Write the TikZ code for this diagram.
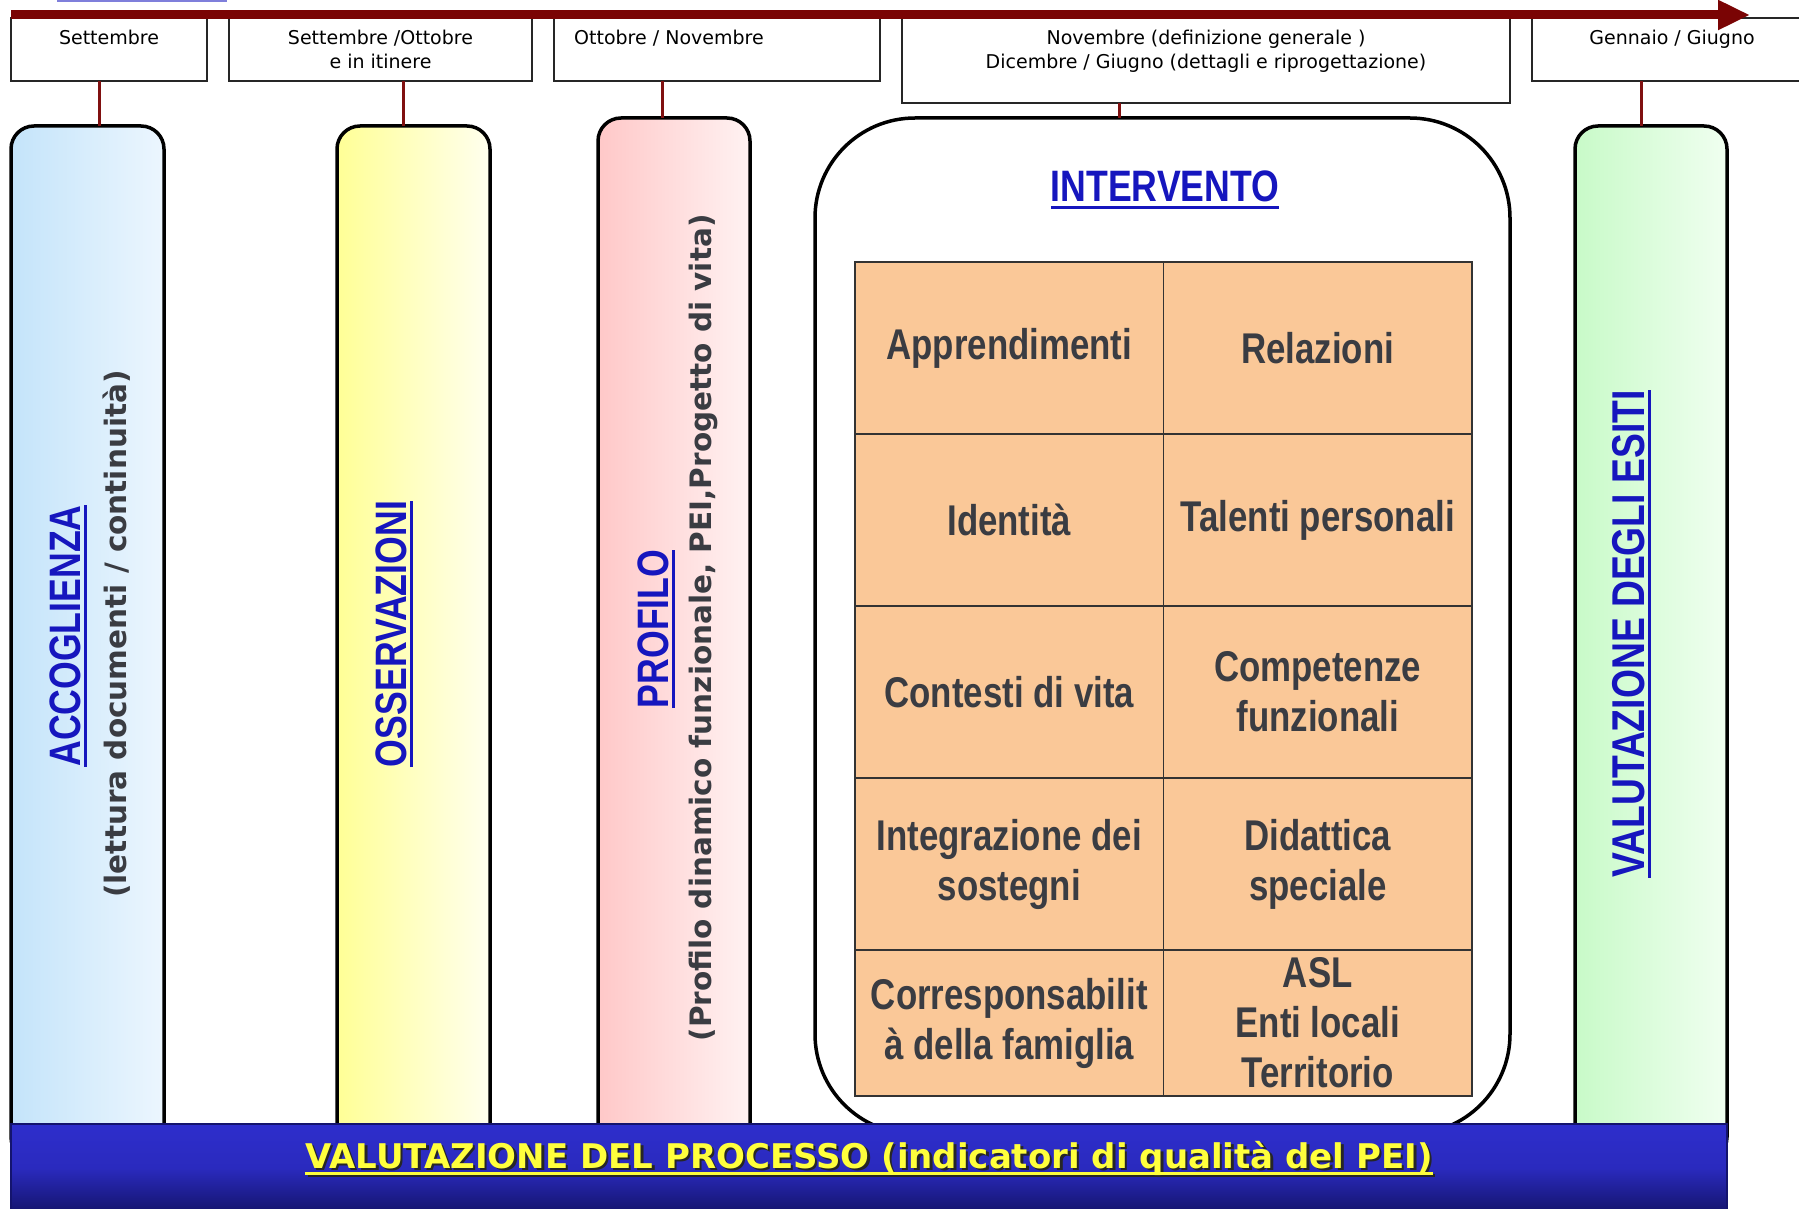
\documentclass[tikz,border=0pt]{standalone}
\usepackage{fontspec}
\usetikzlibrary{arrows.meta, positioning}

\newfontfamily\condfont[FakeStretch=0.81]{Liberation Sans}
\newfontfamily\verdfont{DejaVu Sans}

\definecolor{timered}{RGB}{122,4,4}
\definecolor{linkred}{RGB}{128,16,16}
\definecolor{titleblue}{RGB}{22,22,190}
\definecolor{darkgrey}{RGB}{58,60,66}
\definecolor{cellfill}{RGB}{250,200,152}
\definecolor{barTop}{RGB}{46,46,204}
\definecolor{barBot}{RGB}{20,20,110}
\definecolor{barYellow}{RGB}{255,255,60}
\definecolor{accL}{RGB}{196,228,250}
\definecolor{accR}{RGB}{236,246,254}
\definecolor{ossL}{RGB}{255,255,150}
\definecolor{ossR}{RGB}{255,255,238}
\definecolor{proL}{RGB}{255,200,200}
\definecolor{proR}{RGB}{255,242,242}
\definecolor{esiL}{RGB}{200,250,200}
\definecolor{esiR}{RGB}{240,255,240}

% underlined text: #1 = depth of the rule below the baseline
\newcommand{\ulrule}[2]{\begingroup\setbox0\hbox{#2}\dimen0=\wd0\rlap{\box0}\rule[-#1]{\dimen0}{3pt}\endgroup}

\tikzset{
    tbox/.style={draw=black!85, line width=1.3pt, fill=white, anchor=north west,
        inner sep=0pt, outer sep=0pt},
    tlabel/.style={font=\verdfont\fontsize{19}{24}\selectfont, align=center, inner sep=0pt},
    link/.style={draw=linkred, line width=3pt},
    timeline/.style={draw=timered, line width=9pt, -{Triangle[length=32pt, width=28pt]}},
    pillar/.style={draw=black, line width=3.5pt, rounded corners=23pt, anchor=north west,
        inner sep=0pt, outer sep=0pt},
    title/.style={font=\condfont\bfseries\fontsize{44}{50}\selectfont, text=titleblue,
        anchor=base, inner sep=0pt},
    phase/.style={title, rotate=90},
    phasenote/.style={font=\verdfont\bfseries\fontsize{29.5}{36}\selectfont, text=darkgrey,
        rotate=90, anchor=base, inner sep=0pt},
    cell/.style={draw=black!80, line width=1.3pt, fill=cellfill, minimum width=308.5pt,
        minimum height=172pt, inner sep=0pt, outer sep=0pt, align=center, text=darkgrey,
        font=\condfont\bfseries\fontsize{43}{50}\selectfont},
    bar/.style={draw=barBot, line width=1.5pt, top color=barTop, bottom color=barBot,
        middle color=barTop!85!barBot, anchor=north west, inner sep=0pt, outer sep=0pt},
    bartext/.style={font=\verdfont\bfseries\fontsize{34}{40}\selectfont, anchor=base, inner sep=0pt},
}

\begin{document}
\begin{tikzpicture}[x=1pt, y=-1pt]

    \useasboundingbox (0, 0) rectangle (1799, 1209);

    %% Phases of the PEI along the school year

    % Cut header
    \draw[titleblue!55, line width=3pt] (57, 1) -- (227, 1);

    % Months
    \node[tbox, minimum width=196pt, minimum height=63pt] (t1) at (11, 18) {};
    \node[tbox, minimum width=303pt, minimum height=63pt] (t2) at (229, 18) {};
    \node[tbox, minimum width=326pt, minimum height=63pt] (t3) at (554, 18) {};
    \node[tbox, minimum width=608pt, minimum height=85pt] (t4) at (902, 18) {};
    \node[tbox, minimum width=280pt, minimum height=63pt] (t5) at (1532, 18) {};

    \node[tlabel, below=12pt of t1.north] (l1) {Settembre};
    \node[tlabel, below=12pt of t2.north] (l2) {Settembre /Ottobre\\e in itinere};
    \node[tlabel, below right=12pt and 20pt of t3.north west] (l3) {Ottobre / Novembre};
    \node[tlabel, below=12pt of t4.north] (l4) {Novembre (definizione generale )\\Dicembre / Giugno (dettagli e riprogettazione)};
    \node[tlabel, below=12pt of t5.north] (l5) {Gennaio / Giugno};

    % Time axis
    \draw[timeline] (11, 15) -- (1750, 15);

    % Phases
    \node[pillar, left color=accL, right color=accR, minimum width=153pt, minimum height=1034pt] (acc) at (11, 126) {};
    \node[pillar, left color=ossL, right color=ossR, minimum width=153pt, minimum height=1034pt] (oss) at (337, 126) {};
    \node[pillar, left color=proL, right color=proR, minimum width=152pt, minimum height=1042pt] (prof) at (598, 118) {};
    \node[pillar, fill=white, rounded corners=100pt, minimum width=695pt, minimum height=1016pt] (interv) at (815, 118) {};
    \node[pillar, left color=esiL, right color=esiR, minimum width=152pt, minimum height=1034pt] (esiti) at (1575, 126) {};

    % Links month -> phase
    \coordinate (x1) at (99, 0);
    \coordinate (x2) at (403, 0);
    \coordinate (x3) at (662, 0);
    \coordinate (x4) at (1119, 0);
    \coordinate (x5) at (1641, 0);
    \draw[link] (t1.south -| x1) -- (acc.north -| x1);
    \draw[link] (t2.south -| x2) -- (oss.north -| x2);
    \draw[link] (t3.south -| x3) -- (prof.north -| x3);
    \draw[link] (t4.south -| x4) -- (interv.north -| x4);
    \draw[link] (t5.south -| x5) -- (esiti.north -| x5);

    % Phase names
    \node[phase] (accname) at (80, 636) {\ulrule{7pt}{ACCOGLIENZA}};
    \node[phasenote] (accnote) at (126, 634) {(lettura documenti / continuità)};
    \node[phase] (ossname) at (406, 634) {\ulrule{7pt}{OSSERVAZIONI}};
    \node[phase] (profname) at (668, 629) {\ulrule{7pt}{PROFILO}};
    \node[phasenote] (profnote) at (711, 628) {(Profilo dinamico funzionale, PEI,Progetto di vita)};
    \node[phase, font=\condfont\bfseries\fontsize{46}{50}\selectfont] (esitiname) at (1644, 634) {\ulrule{7pt}{VALUTAZIONE DEGLI ESITI}};

    % Intervento
    \node[title] (intname) at (1165, 202) {\ulrule{7pt}{INTERVENTO}};

    \node[cell, anchor=north west] (c11) at (855, 262) {Apprendimenti};
    \node[cell, right=0pt of c11] (c12) {Relazioni};
    \node[cell, below=0pt of c11] (c21) {Identità};
    \node[cell, right=0pt of c21] (c22) {Talenti personali};
    \node[cell, below=0pt of c21] (c31) {Contesti di vita};
    \node[cell, right=0pt of c31] (c32) {Competenze\\funzionali};
    \node[cell, below=0pt of c31] (c41) {Integrazione dei\\sostegni};
    \node[cell, right=0pt of c41] (c42) {Didattica\\speciale};
    \node[cell, minimum height=146pt, below=0pt of c41] (c51) {Corresponsabilit\\à della famiglia};
    \node[cell, minimum height=146pt, right=0pt of c51] (c52) {ASL\\Enti locali\\Territorio};

    % Process evaluation
    \node[bar, minimum width=1716pt, minimum height=88pt] (proc) at (11, 1124) {};
    \node[bartext, text=black!85] at ([xshift=2.5pt, yshift=-46.5pt]proc.north)
        {\ulrule{6.5pt}{VALUTAZIONE DEL PROCESSO (indicatori di qualità del PEI)}};
    \node[bartext, text=barYellow] (proctext) at ([yshift=-44pt]proc.north)
        {\ulrule{6.5pt}{VALUTAZIONE DEL PROCESSO (indicatori di qualità del PEI)}};

\end{tikzpicture}
\end{document}
